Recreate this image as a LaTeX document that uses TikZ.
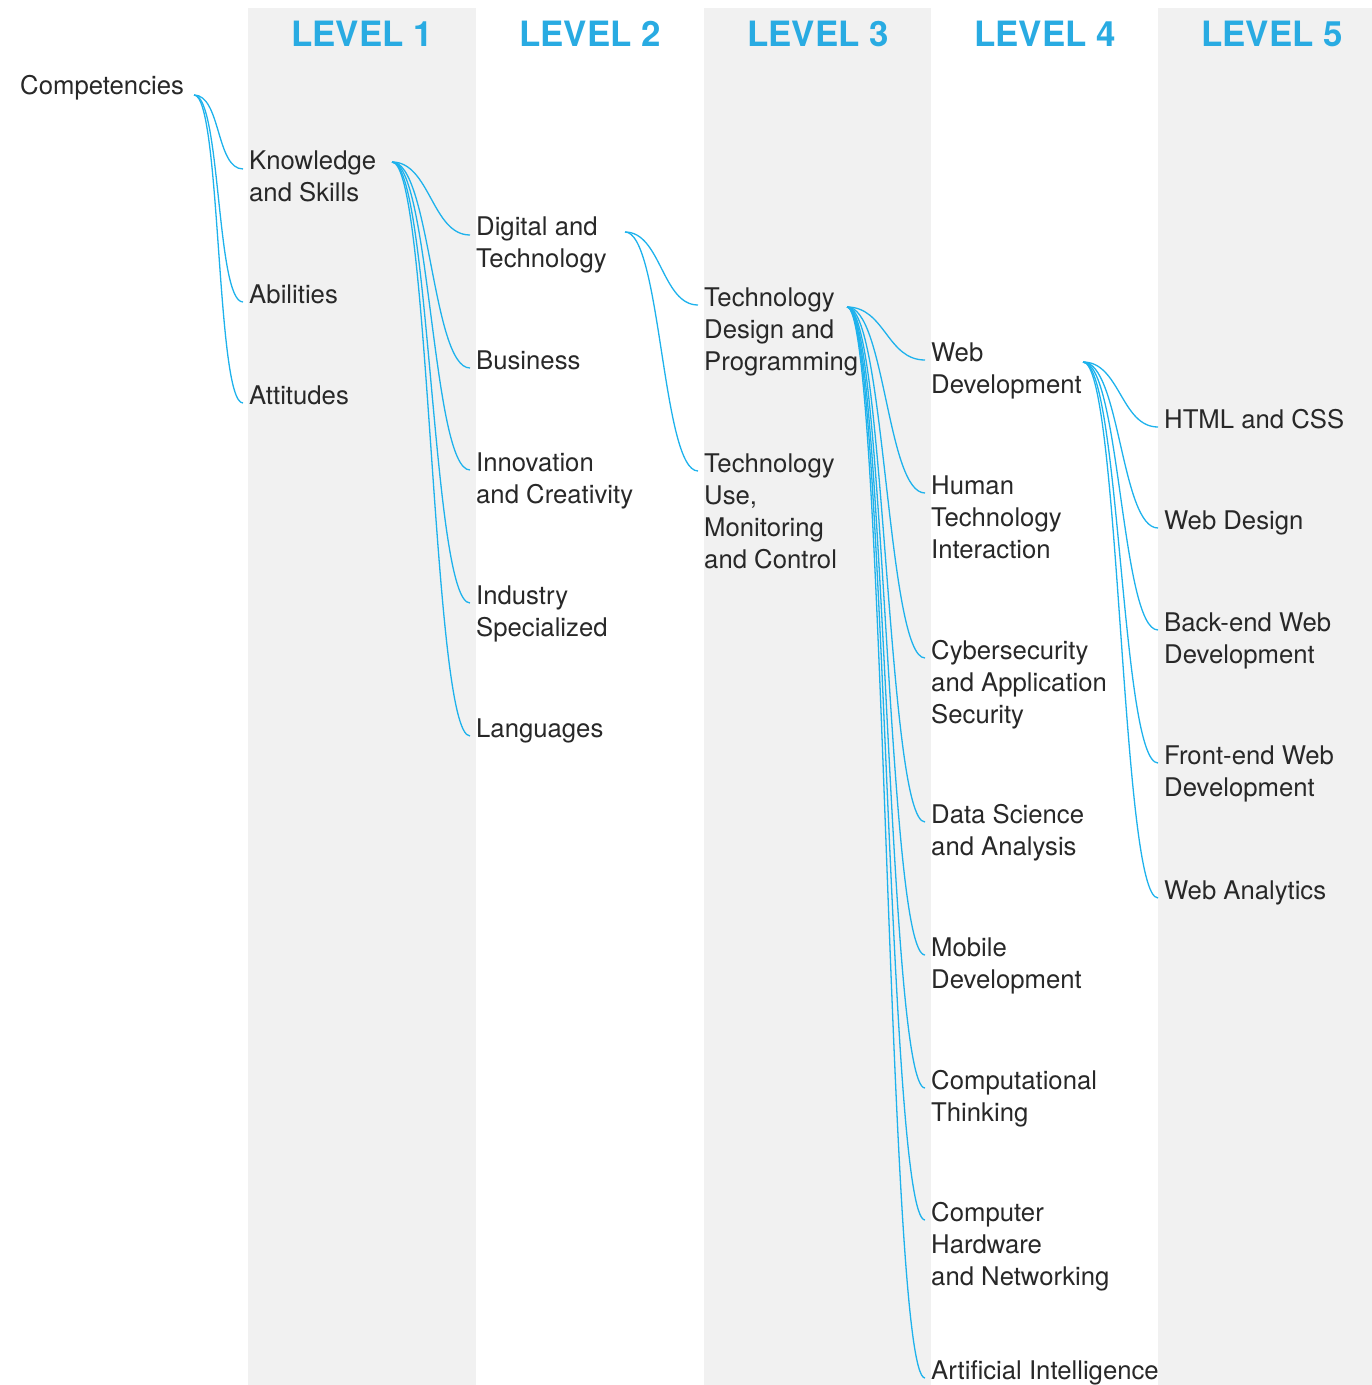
\documentclass[tikz,border=0pt]{standalone}
\usepackage{fontspec}
\setmainfont{TeX Gyre Heros}
\definecolor{lc}{RGB}{41,171,226}
\definecolor{linkc}{RGB}{30,178,236}
\definecolor{bandc}{RGB}{241,241,241}
\definecolor{txt}{RGB}{40,40,40}
\newcommand\ml[1]{\vtop{\baselineskip=32bp\lineskiplimit=-10bp\halign{##\hfil\cr#1\crcr}}}
\begin{document}
\begin{tikzpicture}[x=1bp,y=-1bp,
  lbl/.style={anchor=base west, inner sep=0pt, text=txt, font=\fontsize{25.8}{32}\selectfont},
  hdr/.style={anchor=base, inner sep=0pt, text=lc, font=\bfseries\fontsize{35}{40}\selectfont},
  link/.style={draw=linkc, line width=1.3bp},
  bandbox/.style={fill=bandc, draw=none}]
\useasboundingbox (0,0) rectangle (1372,1385);
\fill[bandbox] (248,8) rectangle (476,1385);
\fill[bandbox] (704,8) rectangle (931,1385);
\fill[bandbox] (1158,8) rectangle (1372,1385);
% headers
\node[hdr] (h1) at (362,47) {LEVEL 1};
\node[hdr] (h2) at (590,47) {LEVEL 2};
\node[hdr] (h3) at (818,47) {LEVEL 3};
\node[hdr] (h4) at (1045,47) {LEVEL 4};
\node[hdr] (h5) at (1272,47) {LEVEL 5};
% nodes
\node[lbl] (comp) at (20,95) {Competencies};
\node[lbl] (know) at (249,170) {\ml{Knowledge\cr and Skills}};
\node[lbl] (abil) at (249,303) {Abilities};
\node[lbl] (att) at (249,404) {Attitudes};
\node[lbl] (dig) at (476,236) {\ml{Digital and\cr Technology}};
\node[lbl] (bus) at (476,369) {Business};
\node[lbl] (inn) at (476,471) {\ml{Innovation\cr and Creativity}};
\node[lbl] (ind) at (476,604) {\ml{Industry\cr Specialized}};
\node[lbl] (lang) at (476,737) {Languages};
\node[lbl] (tdp) at (704,306) {\ml{Technology\cr Design and\cr Programming}};
\node[lbl] (tum) at (704,472) {\ml{Technology\cr Use,\cr Monitoring\cr and Control}};
\node[lbl] (webd) at (931,361) {\ml{Web\cr Development}};
\node[lbl] (hti) at (931,494) {\ml{Human\cr Technology\cr Interaction}};
\node[lbl] (cyb) at (931,659) {\ml{Cybersecurity\cr and Application\cr Security}};
\node[lbl] (dsa) at (931,823) {\ml{Data Science\cr and Analysis}};
\node[lbl] (mob) at (931,956) {\ml{Mobile\cr Development}};
\node[lbl] (ct) at (931,1089) {\ml{Computational\cr Thinking}};
\node[lbl] (chn) at (931,1221) {\ml{Computer\cr Hardware\cr and Networking}};
\node[lbl] (ai) at (931,1379) {Artificial Intelligence};
\node[lbl] (html) at (1164,428) {HTML and CSS};
\node[lbl] (wdes) at (1164,529) {Web Design};
\node[lbl] (back) at (1164,631) {\ml{Back-end Web\cr Development}};
\node[lbl] (front) at (1164,764) {\ml{Front-end Web\cr Development}};
\node[lbl] (wan) at (1164,899) {Web Analytics};
% connector start points
\coordinate (comp-o) at (194,95);
\coordinate (know-o) at (392,162);
\coordinate (dig-o) at (625,232);
\coordinate (tdp-o) at (847,307);
\coordinate (webd-o) at (1083,362);
% connectors
\foreach \c in {know,abil,att}
  \draw[link] (comp-o) .. controls +(27,0) and +(-27,0) .. ([shift={(-6,-1)}]\c.base west);
\foreach \c in {dig,bus,inn,ind,lang}
  \draw[link] (know-o) .. controls +(38,0) and +(-38,0) .. ([shift={(-6,-1)}]\c.base west);
\foreach \c in {tdp,tum}
  \draw[link] (dig-o) .. controls +(36,0) and +(-36,0) .. ([shift={(-6,-1)}]\c.base west);
\foreach \c in {webd,hti,cyb,dsa,mob,ct,chn,ai}
  \draw[link] (tdp-o) .. controls +(38,0) and +(-38,0) .. ([shift={(-6,-1)}]\c.base west);
\foreach \c in {html,wdes,back,front,wan}
  \draw[link] (webd-o) .. controls +(37,0) and +(-37,0) .. ([shift={(-6,-1)}]\c.base west);
\end{tikzpicture}
\end{document}
